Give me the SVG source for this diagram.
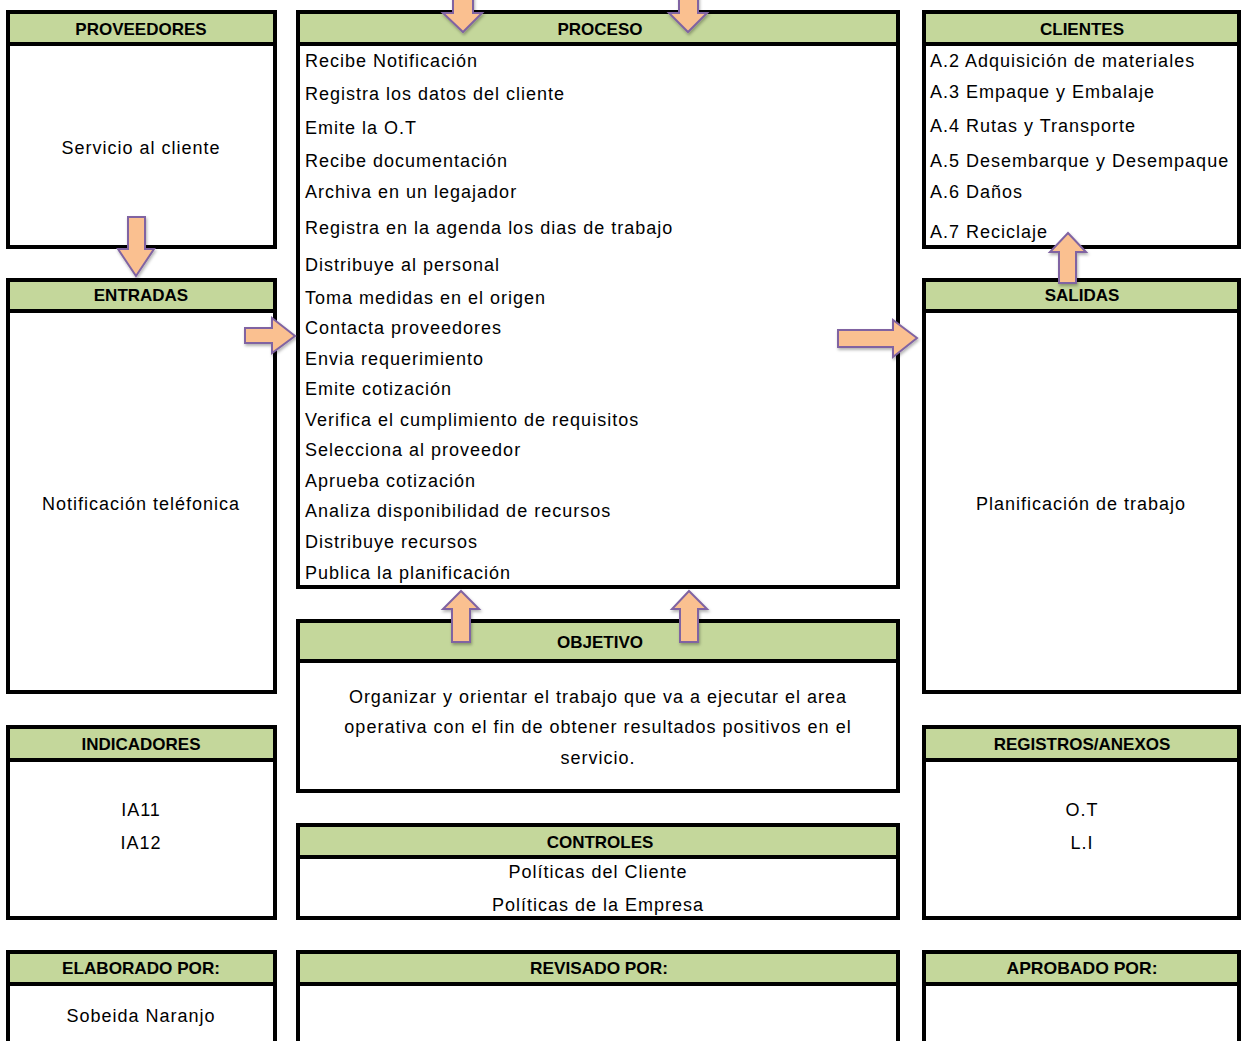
<svg xmlns="http://www.w3.org/2000/svg" width="1241" height="1041" viewBox="0 0 1241 1041">
  <style>
    .frame { fill: #ffffff; stroke: #000000; stroke-width: 4; }
    .head { fill: #C4D79B; stroke: #000000; stroke-width: 4; }
    .hd { font-family: "Liberation Sans", Arial, sans-serif; font-weight: bold; font-size: 17px; fill: #000; text-anchor: middle; }
    .tx { font-family: "Liberation Sans", Arial, sans-serif; font-size: 18px; letter-spacing: 1px; fill: #000; }
    .c { text-anchor: middle; }
    .arrow { fill: #FAC090; stroke: #8064A2; stroke-width: 2; stroke-linejoin: miter; filter: url(#shadow); }
  </style>
  <defs>
    <filter id="shadow" x="-30%" y="-30%" width="160%" height="160%">
      <feDropShadow dx="1" dy="2" stdDeviation="1.5" flood-color="#000" flood-opacity="0.3"/>
    </filter>
  </defs>
  <rect width="1241" height="1041" fill="#ffffff"/>

  <!-- left column -->
  <g id="proveedores">
    <rect class="frame" x="8" y="12" width="267" height="235"/>
    <rect class="head" x="8" y="12" width="267" height="32"/>
    <text class="hd" x="141" y="35">PROVEEDORES</text>
    <text class="tx c" x="141" y="154">Servicio al cliente</text>
  </g>
  <g id="entradas">
    <rect class="frame" x="8" y="280" width="267" height="412"/>
    <rect class="head" x="8" y="280" width="267" height="31"/>
    <text class="hd" x="141" y="301">ENTRADAS</text>
    <text class="tx c" x="141" y="510">Notificación teléfonica</text>
  </g>
  <g id="indicadores">
    <rect class="frame" x="8" y="727" width="267" height="191"/>
    <rect class="head" x="8" y="727" width="267" height="33"/>
    <text class="hd" x="141" y="750">INDICADORES</text>
    <text class="tx c" x="141" y="816">IA11</text>
    <text class="tx c" x="141" y="849">IA12</text>
  </g>
  <g id="elaborado">
    <rect class="frame" x="8" y="952" width="267" height="100"/>
    <rect class="head" x="8" y="952" width="267" height="32"/>
    <text class="hd" x="141" y="974" textLength="158" lengthAdjust="spacingAndGlyphs">ELABORADO POR:</text>
    <text class="tx c" x="141" y="1022">Sobeida Naranjo</text>
  </g>

  <!-- middle column -->
  <g id="proceso">
    <rect class="frame" x="298" y="12" width="600" height="575"/>
    <rect class="head" x="298" y="12" width="600" height="32"/>
    <text class="hd" x="600" y="35">PROCESO</text>
    <text class="tx" x="305" y="67">Recibe Notificación</text>
    <text class="tx" x="305" y="100">Registra los datos del cliente</text>
    <text class="tx" x="305" y="134">Emite la O.T</text>
    <text class="tx" x="305" y="167">Recibe documentación</text>
    <text class="tx" x="305" y="198">Archiva en un legajador</text>
    <text class="tx" x="305" y="234">Registra en la agenda los dias de trabajo</text>
    <text class="tx" x="305" y="271">Distribuye al personal</text>
    <text class="tx" x="305" y="304">Toma medidas en el origen</text>
    <text class="tx" x="305" y="334">Contacta proveedores</text>
    <text class="tx" x="305" y="365">Envia requerimiento</text>
    <text class="tx" x="305" y="395">Emite cotización</text>
    <text class="tx" x="305" y="426">Verifica el cumplimiento de requisitos</text>
    <text class="tx" x="305" y="456">Selecciona al proveedor</text>
    <text class="tx" x="305" y="487">Aprueba cotización</text>
    <text class="tx" x="305" y="517">Analiza disponibilidad de recursos</text>
    <text class="tx" x="305" y="548">Distribuye recursos</text>
    <text class="tx" x="305" y="579">Publica la planificación</text>
  </g>
  <g id="objetivo">
    <rect class="frame" x="298" y="621" width="600" height="170"/>
    <rect class="head" x="298" y="621" width="600" height="40"/>
    <text class="hd" x="600" y="648">OBJETIVO</text>
    <text class="tx c" x="598" y="703">Organizar y orientar el trabajo que va a ejecutar el area</text>
    <text class="tx c" x="598" y="733">operativa con el fin de obtener resultados positivos en el</text>
    <text class="tx c" x="598" y="764">servicio.</text>
  </g>
  <g id="controles">
    <rect class="frame" x="298" y="825" width="600" height="93"/>
    <rect class="head" x="298" y="825" width="600" height="32"/>
    <text class="hd" x="600" y="848">CONTROLES</text>
    <text class="tx c" x="598" y="878">Políticas del Cliente</text>
    <text class="tx c" x="598" y="911">Políticas de la Empresa</text>
  </g>
  <g id="revisado">
    <rect class="frame" x="298" y="952" width="600" height="100"/>
    <rect class="head" x="298" y="952" width="600" height="32"/>
    <text class="hd" x="599" y="974" textLength="138" lengthAdjust="spacingAndGlyphs">REVISADO POR:</text>
  </g>

  <!-- right column -->
  <g id="clientes">
    <rect class="frame" x="924" y="12" width="315" height="235"/>
    <rect class="head" x="924" y="12" width="315" height="32"/>
    <text class="hd" x="1082" y="35">CLIENTES</text>
    <text class="tx" x="930" y="67">A.2 Adquisición de materiales</text>
    <text class="tx" x="930" y="98">A.3 Empaque y Embalaje</text>
    <text class="tx" x="930" y="132">A.4 Rutas y Transporte</text>
    <text class="tx" x="930" y="167">A.5 Desembarque y Desempaque</text>
    <text class="tx" x="930" y="198">A.6 Daños</text>
    <text class="tx" x="930" y="238">A.7 Reciclaje</text>
  </g>
  <g id="salidas">
    <rect class="frame" x="924" y="280" width="315" height="412"/>
    <rect class="head" x="924" y="280" width="315" height="31"/>
    <text class="hd" x="1082" y="301">SALIDAS</text>
    <text class="tx c" x="1081" y="510">Planificación de trabajo</text>
  </g>
  <g id="registros">
    <rect class="frame" x="924" y="727" width="315" height="191"/>
    <rect class="head" x="924" y="727" width="315" height="33"/>
    <text class="hd" x="1082" y="750">REGISTROS/ANEXOS</text>
    <text class="tx c" x="1082" y="816">O.T</text>
    <text class="tx c" x="1082" y="849">L.I</text>
  </g>
  <g id="aprobado">
    <rect class="frame" x="924" y="952" width="315" height="100"/>
    <rect class="head" x="924" y="952" width="315" height="32"/>
    <text class="hd" x="1082" y="974" textLength="151" lengthAdjust="spacingAndGlyphs">APROBADO POR:</text>
  </g>

  <!-- block arrows -->
  <g id="connectors">
    <!-- proveedores down to entradas -->
    <polygon class="arrow" points="128,217 145,217 145,249 154,249 136,276 118,249 128,249"/>
    <!-- arrows entering proceso from the top -->
    <polygon class="arrow" points="453,-5 473,-5 473,13 482,13 463,32 443,13 453,13"/>
    <polygon class="arrow" points="679,-5 698,-5 698,13 707,13 688,32 669,13 679,13"/>
    <!-- entradas into proceso -->
    <polygon class="arrow" points="245,328 272,328 272,318 295,336 272,353 272,343 245,343"/>
    <!-- proceso into salidas -->
    <polygon class="arrow" points="838,330 893,330 893,320 917,338 893,357 893,347 838,347"/>
    <!-- salidas up to clientes -->
    <polygon class="arrow" points="1059,283 1076,283 1076,252 1086,252 1068,233 1050,252 1059,252"/>
    <!-- objetivo up to proceso -->
    <polygon class="arrow" points="452,642 470,642 470,609 479,609 461,591 443,609 452,609"/>
    <polygon class="arrow" points="680,642 698,642 698,609 707,609 689,591 672,609 680,609"/>
  </g>
</svg>
